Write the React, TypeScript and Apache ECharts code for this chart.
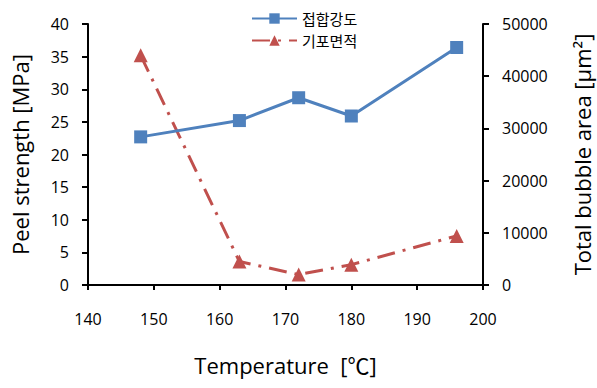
import React, { useEffect, useRef } from "react";
import * as echarts from "echarts";

const temperatures = [148, 163, 172, 180, 196];
const peelStrength = [22.7, 25.2, 28.7, 25.9, 36.4];
const bubbleArea = [44000, 4500, 2000, 3900, 9400];
const seriesNames = ["접합강도", "기포면적"];
const xAxisTitle = "Temperature  [℃]";
const leftTitle = "Peel strength [MPa]";
const rightTitle = "Total bubble area [μm²]";

const FONT = '"Open Sans", "Noto Sans CJK KR", sans-serif';

export default function App() {
  const ref = useRef<HTMLDivElement>(null);
  useEffect(() => {
    if (!ref.current) return;
    const chart = echarts.init(ref.current, undefined, { renderer: "svg" });
    const axisLine = { show: true, lineStyle: { color: "#000", width: 2 } };
    const axisLabel = { color: "#000", fontSize: 16, fontFamily: FONT, formatter: (v: number) => String(v) };
    const titleStyle = { fontSize: 22, color: "#000", fontFamily: FONT };
    chart.setOption({
      animation: false,
      backgroundColor: "#fff",
      legend: {
        orient: "vertical",
        left: 246,
        top: 6,
        itemWidth: 45,
        itemHeight: 13,
        itemGap: 7,
        textStyle: { fontSize: 15, lineHeight: 15, color: "#000", fontFamily: '"Noto Sans CJK KR", sans-serif' },
        data: seriesNames,
      },
      grid: { left: 88, right: 114, top: 24, bottom: 103, outerBoundsMode: "none", containLabel: false },
      xAxis: {
        type: "value",
        min: 140,
        max: 200,
        interval: 10,
        axisLine,
        axisTick: { show: true, inside: false, length: 5, lineStyle: { color: "#000", width: 2 } },
        axisLabel: { ...axisLabel, margin: 26 },
        splitLine: { show: false },
        name: xAxisTitle,
        nameLocation: "middle",
        nameGap: 69,
        nameTextStyle: titleStyle,
      },
      yAxis: [
        {
          type: "value",
          min: 0,
          max: 40,
          interval: 5,
          position: "left",
          axisLine,
          axisTick: { show: true, length: 6, lineStyle: { color: "#000", width: 2 } },
          axisLabel: { ...axisLabel, margin: 19 },
          splitLine: { show: false },
          name: leftTitle,
          nameLocation: "middle",
          nameRotate: 90,
          nameGap: 57,
          nameTextStyle: titleStyle,
        },
        {
          type: "value",
          min: 0,
          max: 50000,
          interval: 10000,
          position: "right",
          axisLine,
          axisTick: { show: true, length: 6, lineStyle: { color: "#000", width: 2 } },
          axisLabel: { ...axisLabel, margin: 19 },
          splitLine: { show: false },
          name: rightTitle,
          nameLocation: "middle",
          nameRotate: 90,
          nameGap: 88,
          nameTextStyle: titleStyle,
        },
      ],
      series: [
        {
          name: seriesNames[0],
          type: "line",
          yAxisIndex: 0,
          data: temperatures.map((t, i) => [t, peelStrength[i]]),
          symbol: "rect",
          symbolSize: 13,
          itemStyle: { color: "#4F81BD" },
          lineStyle: { color: "#4F81BD", width: 3 },
          z: 3,
        },
        {
          name: seriesNames[1],
          type: "line",
          yAxisIndex: 1,
          data: temperatures.map((t, i) => [t, bubbleArea[i]]),
          symbol: "triangle",
          symbolSize: 14,
          itemStyle: { color: "#C0504D" },
          lineStyle: { color: "#C0504D", width: 3, type: [18, 8, 3, 8] },
          z: 2,
        },
      ],
    });
    return () => chart.dispose();
  }, []);
  return <div ref={ref} style={{ position: "fixed", left: 0, top: 0, width: 597, height: 388 }} />;
}
